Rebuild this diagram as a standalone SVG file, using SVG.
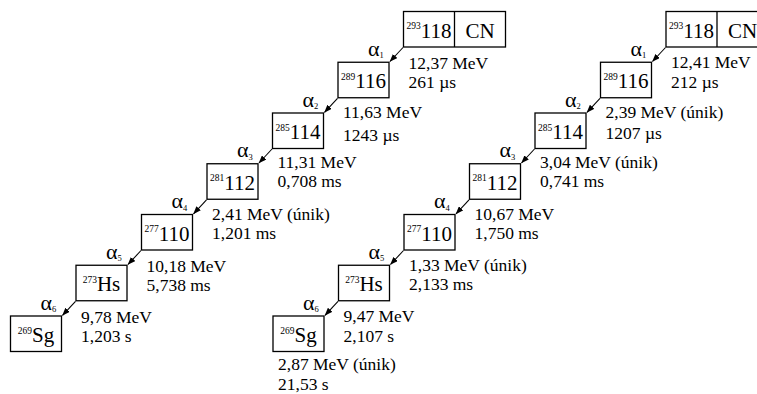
<svg xmlns="http://www.w3.org/2000/svg" width="757" height="394" viewBox="0 0 757 394">
<defs>
<style>
text{font-family:"Liberation Serif","Times New Roman",serif;fill:#000}
.box{fill:#fff;stroke:#000;stroke-width:1.3}
.nm{font-size:21px}
.sup{font-size:9.5px}
.lbl{font-size:17.5px}
.al{font-size:22px}
.sub{font-size:8.5px}
.arr{stroke:#000;stroke-width:1.1;fill:none;marker-end:url(#ah)}
</style>
<marker id="ah" markerWidth="8" markerHeight="6" refX="7.5" refY="3" orient="auto" markerUnits="userSpaceOnUse"><path d="M0,0 L8,3 L0,6 z" fill="#000"/></marker>
</defs>
<rect width="757" height="394" fill="#fff"/>

<g id="connectors">
<line class="arr" x1="403" y1="47.5" x2="390" y2="61.5"/>
<line class="arr" x1="337.5" y1="98.3" x2="324.5" y2="112.3"/>
<line class="arr" x1="272" y1="149" x2="259" y2="163"/>
<line class="arr" x1="206.5" y1="199.8" x2="193.5" y2="213.8"/>
<line class="arr" x1="141" y1="250.5" x2="128" y2="264.5"/>
<line class="arr" x1="75.5" y1="301.3" x2="62.5" y2="315.3"/>

<line class="arr" x1="665.5" y1="47.5" x2="652.5" y2="61.5"/>
<line class="arr" x1="600" y1="98.3" x2="587" y2="112.3"/>
<line class="arr" x1="534.5" y1="149" x2="521.5" y2="163"/>
<line class="arr" x1="469" y1="199.8" x2="456" y2="213.8"/>
<line class="arr" x1="403.5" y1="250.5" x2="390.5" y2="264.5"/>
<line class="arr" x1="338" y1="301.3" x2="325" y2="315.3"/>
</g>

<g id="alpha-labels-left">
<text class="al" x="368" y="55.8">α<tspan class="sub" dy="2.5">1</tspan></text>
<text class="al" x="302.5" y="106.5">α<tspan class="sub" dy="2.5">2</tspan></text>
<text class="al" x="237" y="157.3">α<tspan class="sub" dy="2.5">3</tspan></text>
<text class="al" x="171.5" y="208">α<tspan class="sub" dy="2.5">4</tspan></text>
<text class="al" x="106" y="258.8">α<tspan class="sub" dy="2.5">5</tspan></text>
<text class="al" x="40.5" y="309.5">α<tspan class="sub" dy="2.5">6</tspan></text>
</g>
<g id="alpha-labels-right">
<text class="al" x="630.5" y="55.8">α<tspan class="sub" dy="2.5">1</tspan></text>
<text class="al" x="565" y="106.5">α<tspan class="sub" dy="2.5">2</tspan></text>
<text class="al" x="499.5" y="157.3">α<tspan class="sub" dy="2.5">3</tspan></text>
<text class="al" x="434" y="208">α<tspan class="sub" dy="2.5">4</tspan></text>
<text class="al" x="368.5" y="258.8">α<tspan class="sub" dy="2.5">5</tspan></text>
<text class="al" x="303" y="309.5">α<tspan class="sub" dy="2.5">6</tspan></text>
</g>

<!-- Left chain -->
<g id="L118">
<rect class="box" x="403.5" y="11.5" width="102" height="35.5"/>
<line x1="454.5" y1="11.5" x2="454.5" y2="47" stroke="#000" stroke-width="1.3"/>
<text class="nm" x="429" y="37.5" text-anchor="middle"><tspan class="sup" dy="-8.5">293</tspan><tspan dy="8.5">118</tspan></text>
<text class="nm" x="480" y="37.5" text-anchor="middle">CN</text>
<text class="lbl" x="408.5" y="68.5">12,37 MeV</text>
<text class="lbl" x="408.5" y="87.5">261 µs</text>
</g>
<g id="L116">
<rect class="box" x="338" y="62.25" width="51" height="35.5"/>
<text class="nm" x="363.5" y="88.25" text-anchor="middle"><tspan class="sup" dy="-8.5">289</tspan><tspan dy="8.5">116</tspan></text>
<text class="lbl" x="343" y="118">11,63 MeV</text>
<text class="lbl" x="343" y="140.5">1243 µs</text>
</g>
<g id="L114">
<rect class="box" x="272.5" y="113" width="51" height="35.5"/>
<text class="nm" x="298" y="139" text-anchor="middle"><tspan class="sup" dy="-8.5">285</tspan><tspan dy="8.5">114</tspan></text>
<text class="lbl" x="277.5" y="167.5">11,31 MeV</text>
<text class="lbl" x="277.5" y="187">0,708 ms</text>
</g>
<g id="L112">
<rect class="box" x="207" y="163.75" width="51" height="35.5"/>
<text class="nm" x="232.5" y="189.75" text-anchor="middle"><tspan class="sup" dy="-8.5">281</tspan><tspan dy="8.5">112</tspan></text>
<text class="lbl" x="212" y="219.5">2,41 MeV (únik)</text>
<text class="lbl" x="212" y="239">1,201 ms</text>
</g>
<g id="L110">
<rect class="box" x="141.5" y="214.5" width="51" height="35.5"/>
<text class="nm" x="167" y="240.5" text-anchor="middle"><tspan class="sup" dy="-8.5">277</tspan><tspan dy="8.5">110</tspan></text>
<text class="lbl" x="146.5" y="271.5">10,18 MeV</text>
<text class="lbl" x="146.5" y="290.5">5,738 ms</text>
</g>
<g id="LHs">
<rect class="box" x="76" y="265.25" width="51" height="35.5"/>
<text class="nm" x="101.5" y="291.25" text-anchor="middle"><tspan class="sup" dy="-8.5">273</tspan><tspan dy="8.5">Hs</tspan></text>
<text class="lbl" x="81" y="322.5">9,78 MeV</text>
<text class="lbl" x="81" y="341.5">1,203 s</text>
</g>
<g id="LSg">
<rect class="box" x="10.5" y="316" width="51" height="35.5"/>
<text class="nm" x="36" y="342" text-anchor="middle"><tspan class="sup" dy="-8.5">269</tspan><tspan dy="8.5">Sg</tspan></text>
</g>

<!-- Right chain -->
<g id="R118">
<rect class="box" x="666" y="11.5" width="102" height="35.5"/>
<line x1="717" y1="11.5" x2="717" y2="47" stroke="#000" stroke-width="1.3"/>
<text class="nm" x="691.5" y="37.5" text-anchor="middle"><tspan class="sup" dy="-8.5">293</tspan><tspan dy="8.5">118</tspan></text>
<text class="nm" x="742.5" y="37.5" text-anchor="middle">CN</text>
<text class="lbl" x="671" y="67.5">12,41 MeV</text>
<text class="lbl" x="671" y="87.5">212 µs</text>
</g>
<g id="R116">
<rect class="box" x="600.5" y="62.25" width="51" height="35.5"/>
<text class="nm" x="626" y="88.25" text-anchor="middle"><tspan class="sup" dy="-8.5">289</tspan><tspan dy="8.5">116</tspan></text>
<text class="lbl" x="605.5" y="117.5">2,39 MeV (únik)</text>
<text class="lbl" x="605.5" y="138.5">1207 µs</text>
</g>
<g id="R114">
<rect class="box" x="535" y="113" width="51" height="35.5"/>
<text class="nm" x="560.5" y="139" text-anchor="middle"><tspan class="sup" dy="-8.5">285</tspan><tspan dy="8.5">114</tspan></text>
<text class="lbl" x="540" y="167.5">3,04 MeV (únik)</text>
<text class="lbl" x="540" y="186.5">0,741 ms</text>
</g>
<g id="R112">
<rect class="box" x="469.5" y="163.75" width="51" height="35.5"/>
<text class="nm" x="495" y="189.75" text-anchor="middle"><tspan class="sup" dy="-8.5">281</tspan><tspan dy="8.5">112</tspan></text>
<text class="lbl" x="474.5" y="219.5">10,67 MeV</text>
<text class="lbl" x="474.5" y="238.5">1,750 ms</text>
</g>
<g id="R110">
<rect class="box" x="404" y="214.5" width="51" height="35.5"/>
<text class="nm" x="429.5" y="240.5" text-anchor="middle"><tspan class="sup" dy="-8.5">277</tspan><tspan dy="8.5">110</tspan></text>
<text class="lbl" x="409" y="271">1,33 MeV (únik)</text>
<text class="lbl" x="409" y="290">2,133 ms</text>
</g>
<g id="RHs">
<rect class="box" x="338.5" y="265.25" width="51" height="35.5"/>
<text class="nm" x="364" y="291.25" text-anchor="middle"><tspan class="sup" dy="-8.5">273</tspan><tspan dy="8.5">Hs</tspan></text>
<text class="lbl" x="343.5" y="321.5">9,47 MeV</text>
<text class="lbl" x="343.5" y="341.5">2,107 s</text>
</g>
<g id="RSg">
<rect class="box" x="273" y="316" width="51" height="35.5"/>
<text class="nm" x="298.5" y="342" text-anchor="middle"><tspan class="sup" dy="-8.5">269</tspan><tspan dy="8.5">Sg</tspan></text>
<text class="lbl" x="278" y="369.5">2,87 MeV (únik)</text>
<text class="lbl" x="278" y="389.5">21,53 s</text>
</g>
</svg>
